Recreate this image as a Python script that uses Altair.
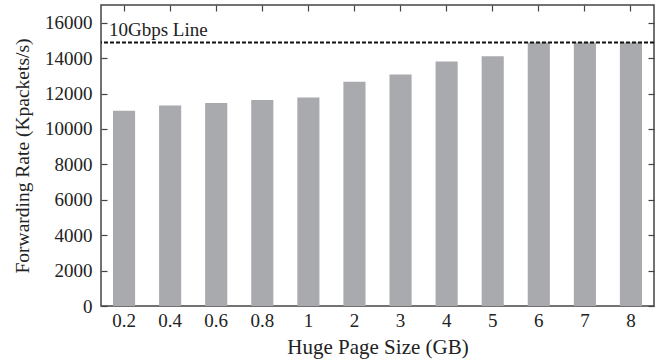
import altair as alt
import pandas as pd

# Huge page sizes (GB) and measured forwarding rates (Kpackets/s)
page_sizes = ["0.2", "0.4", "0.6", "0.8", "1", "2", "3", "4", "5", "6", "7", "8"]
rates = [11030, 11320, 11460, 11630, 11780, 12670, 13080, 13810, 14110, 14880, 14880, 14880]
line_rate = 14880  # 10 Gbps with 64-byte packets
line_label = "10Gbps Line"
y_ticks = [0, 2000, 4000, 6000, 8000, 10000, 12000, 14000, 16000]

df = pd.DataFrame({"size": page_sizes, "rate": rates})

FONT = "Liberation Serif"
TEXT = "#222222"

x_scale = alt.Scale(paddingInner=0.52, paddingOuter=0.26)
y_scale = alt.Scale(domain=[0, 17000], nice=False)

bars = alt.Chart(df).mark_bar(color="#a9aaae").encode(
    x=alt.X("size:N", sort=None, scale=x_scale,
            axis=alt.Axis(orient="bottom", title="Huge Page Size (GB)", labelAngle=0,
                          ticks=False, domain=False, labelPadding=5, titlePadding=6,
                          titleFontSize=21)),
    y=alt.Y("rate:Q", scale=y_scale,
            axis=alt.Axis(orient="left", title="Forwarding Rate (Kpackets/s)",
                          values=y_ticks, format="d", offset=-6, tickSize=6,
                          domain=False, labelPadding=9, titlePadding=12,
                          titleFontSize=19.5)),
)

# mirrored tick marks on top and right edges
mirror = alt.Chart(df).mark_bar(opacity=0).encode(
    x=alt.X("size:N", sort=None, scale=x_scale,
            axis=alt.Axis(orient="top", title=None, labels=False, domain=False,
                          offset=-6, tickSize=6)),
    y=alt.Y("rate:Q", scale=y_scale,
            axis=alt.Axis(orient="right", title=None, labels=False, domain=False,
                          values=y_ticks, offset=-6, tickSize=6)),
)

rule = alt.Chart(pd.DataFrame({"y": [line_rate]})).mark_rule(
    color="#111111", strokeWidth=2, strokeDash=[4, 2]
).encode(y=alt.Y("y:Q", scale=y_scale, axis=None))

label = alt.Chart(pd.DataFrame({"y": [line_rate], "t": [line_label]})).mark_text(
    align="left", baseline="bottom", dx=0, dy=-3, font=FONT, fontSize=19, color=TEXT
).encode(x=alt.value(8), y=alt.Y("y:Q", scale=y_scale, axis=None), text="t:N")

chart = alt.layer(bars, mirror, rule, label).resolve_axis(
    x="independent", y="independent"
).properties(
    width=553, height=301,
    autosize=alt.AutoSizeParams(type="none"),
    padding={"left": 101, "top": 5, "right": 4, "bottom": 56},
).configure_view(
    stroke="#444444", strokeWidth=1.5
).configure_axis(
    labelFont=FONT, titleFont=FONT, labelFontSize=19, titleFontSize=19,
    labelColor=TEXT, titleColor=TEXT, titleFontWeight="normal",
    tickColor="#444444", tickWidth=1.2, grid=False,
)

chart.save("out.html", embed_options={"renderer": "svg", "actions": False})
